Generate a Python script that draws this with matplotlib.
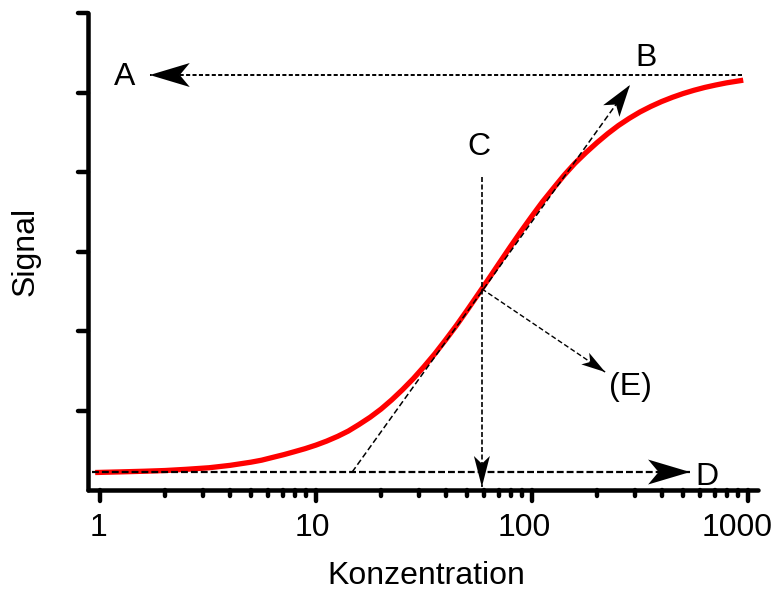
import numpy as np
import matplotlib
matplotlib.use("Agg")
import matplotlib.pyplot as plt
from matplotlib.markers import MarkerStyle, TICKDOWN, TICKLEFT
from matplotlib.patches import Polygon
from matplotlib.transforms import IdentityTransform, ScaledTranslation

# sigmoid dose-response curve, sampled along its length
conc = [0.95, 1.25, 1.6, 2, 2.5, 3.2, 4, 5, 5.6, 6.3, 7.1, 7.9, 8.9,
        10, 11.2, 12.6, 14.1, 15.8, 17.8, 20.0, 22.4, 25.1, 28.2, 31.6, 35.5,
        39.8, 44.7, 50.1, 56.2, 63.1, 70.8, 79.4, 89.1, 100, 112, 126, 141,
        158, 178, 200, 224, 251, 282, 316, 355, 398, 447, 501, 562, 631, 708,
        794, 891, 950]
signal = [0.22, 0.228, 0.236, 0.245, 0.26, 0.28, 0.31, 0.35, 0.375, 0.41,
          0.445, 0.48, 0.52,
          0.565, 0.615, 0.675, 0.741, 0.823, 0.915, 1.018, 1.133, 1.260,
          1.400, 1.551, 1.714, 1.888, 2.071, 2.262, 2.459, 2.659, 2.861,
          3.061, 3.257, 3.447, 3.628, 3.800, 3.962, 4.110, 4.246, 4.370,
          4.482, 4.584, 4.675, 4.755, 4.825, 4.886, 4.940, 4.987, 5.028,
          5.064, 5.094, 5.121, 5.143, 5.155]

x_ticks = [1, 10, 100, 1000]
x_tick_labels = ["1", "10", "100", "1000"]
x_minor = [m * d for d in (1, 10, 100) for m in range(2, 10)]
y_ticks = [1, 2, 3, 4, 5, 6]

# helper lines: start point, arrow tip
line_top = [(938, 5.22), (1.70, 5.22)]        # upper plateau -> A
line_slope = [(14.7, 0.226), (284, 5.094)]    # tangent at inflection -> B
line_ec50 = [(58.6, 3.94), (58.6, 0.038)]     # C down to the axis
line_bottom = [(0.918, 0.226), (539, 0.226)]  # lower plateau -> D
line_e = [(58.6, 2.53), (218, 1.484)]         # (E)

labels = ["A", "B", "C", "D", "(E)"]
label_x = [1.30, 339, 56.9, 646, 284]
label_y = [5.094, 5.333, 4.214, 0.063, 1.195]

FS = 23
plt.rcParams["font.family"] = ["Liberation Sans", "DejaVu Sans"]


def arrow_head(ax, start, tip, length, width, notch=0.25):
    # filled arrow head with a notched back, built in pixel space
    p0 = ax.transData.transform(start)
    p1 = ax.transData.transform(tip)
    d = (p1 - p0) / np.hypot(*(p1 - p0))
    n = np.array([-d[1], d[0]])
    back = p1 - length * d
    pts = [p1, back + n * width / 2, p1 - (1 - notch) * length * d, back - n * width / 2]
    ax.add_patch(Polygon(pts, closed=True, transform=IdentityTransform(),
                         fc="black", ec="none", clip_on=False, zorder=4))


def dashed(ax, pts, lw, dash):
    xs, ys = zip(*pts)
    ax.plot(xs, ys, color="black", lw=lw, linestyle=(0, dash), zorder=3,
            clip_on=False)


fig = plt.figure(figsize=(7.74, 5.92), dpi=100)
ax = fig.add_axes([88 / 774, 102 / 592, 670 / 774, 477 / 592])
ax.set_xscale("log")
ax.set_xlim(0.88, 1112)
ax.set_ylim(0, 6)

ax.plot(conc, signal, color="#ff0000", lw=3.8, solid_capstyle="butt",
        solid_joinstyle="round", zorder=2)

dashed(ax, line_top, 1.4, (2.1, 1.2))
dashed(ax, line_bottom, 1.6, (3.1, 1.35))
dashed(ax, line_slope, 1.1, (3.9, 2.0))
dashed(ax, line_ec50, 1.2, (3.0, 1.5))
dashed(ax, line_e, 1.0, (3.6, 1.9))

arrow_head(ax, *line_top, 40, 24)
arrow_head(ax, *line_bottom, 42, 25)
arrow_head(ax, *line_slope, 32, 20)
arrow_head(ax, *line_ec50, 31, 16)
arrow_head(ax, *line_e, 24, 14)

for txt, x, y in zip(labels, label_x, label_y):
    ax.text(x, y, txt, fontsize=FS, ha="center", va="baseline", zorder=5)

# axes styling
for side in ("top", "right"):
    ax.spines[side].set_visible(False)
for side in ("left", "bottom"):
    ax.spines[side].set_linewidth(3.25)
    ax.spines[side].set_capstyle("round")

ax.set_xticks(x_ticks)
ax.set_xticklabels(x_tick_labels)
ax.set_xticks(x_minor, minor=True)
ax.set_xticklabels([], minor=True)
ax.set_yticks(y_ticks)
ax.tick_params(axis="x", which="major", length=8, width=3.2, pad=8.5,
               labelsize=FS, direction="out")
ax.tick_params(axis="x", which="minor", length=4.5, width=3.2, direction="out")
ax.tick_params(axis="y", length=7, width=3.2, labelleft=False, direction="out")

# rounded tick ends
for tick in ax.xaxis.get_major_ticks() + ax.xaxis.get_minor_ticks():
    tick.tick1line.set_marker(MarkerStyle(TICKDOWN, capstyle="round"))
for tick in ax.yaxis.get_major_ticks():
    tick.tick1line.set_marker(MarkerStyle(TICKLEFT, capstyle="round"))

for tick, dx in zip(ax.xaxis.get_major_ticks(), [-1.5, -4, -8, -11]):
    tick.label1.set_transform(tick.label1.get_transform()
                              + ScaledTranslation(dx / 100, 0, fig.dpi_scale_trans))

ax.text(0.5045, -0.197, "Konzentration", fontsize=FS, ha="center",
        va="baseline", transform=ax.transAxes)
ax.text(-0.0933, 0.501, "Signal", fontsize=FS, rotation=90, ha="center",
        va="center", transform=ax.transAxes)

fig.savefig("out.png", dpi=100)
